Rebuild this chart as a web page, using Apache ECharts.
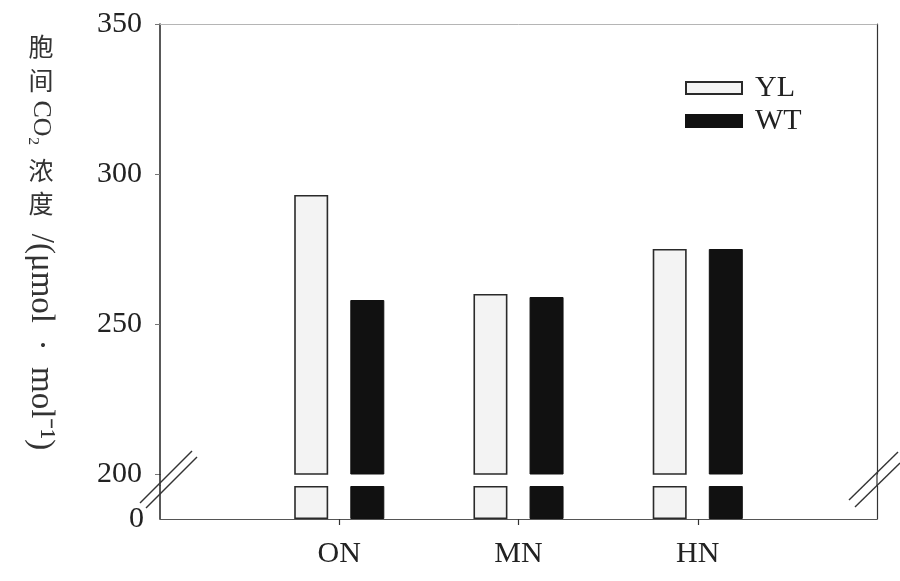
<!DOCTYPE html>
<html>
<head>
<meta charset="utf-8">
<script src="https://cdn.jsdelivr.net/npm/echarts@6/dist/echarts.min.js"></script>
<style>
  html, body { margin: 0; padding: 0; background: #fff; }
  #chart { width: 900px; height: 581px; }
</style>
</head>
<body>
<div id="chart"></div>
<script>
// Intercellular CO2 concentration by nitrogen level, two genotypes
const categories = ['ON', 'MN', 'HN'];
const seriesNames = ['YL', 'WT'];
const ylValues = [293, 260, 275];
const wtValues = [258, 259, 275];
const upperTicks = [200, 250, 300, 350];
const lowerTicks = [0, 200];

const FONT = '"Liberation Serif", "Noto Sans CJK SC", serif';
const CJK = '"Noto Sans CJK SC", sans-serif';
const INK = '#222';

// plot geometry: upper panel 200-350, lower stub 0-200 separated by the break
const L = 160, R = 877, T = 24, UPPER_BOTTOM = 474, LOWER_TOP = 486, B = 519;

const xData = [''].concat(categories, ['']);
const pad = arr => [null].concat(arr, [null]);
const lowerMax = lowerTicks[lowerTicks.length - 1];
const stub = arr => pad(arr.map(v => Math.min(v, lowerMax)));

const ylStyle = { color: '#f3f3f3', borderColor: '#2a2a2a', borderWidth: 1.6 };
const wtStyle = { color: '#111', borderColor: '#111', borderWidth: 1 };

const barCommon = { barWidth: 34, barGap: '65%', clip: true, animation: false };

const chart = echarts.init(document.getElementById('chart'), null, { renderer: 'canvas' });

const catAxisBase = {
  type: 'category',
  data: xData,
  boundaryGap: false,
  axisLabel: { show: false },
  axisTick: { show: false },
  splitLine: { show: false }
};

const option = {
  backgroundColor: '#fff',
  animation: false,
  textStyle: { fontFamily: FONT },
  grid: [
    { left: L, right: 900 - R, top: T, height: UPPER_BOTTOM - T },
    { left: L, right: 900 - R, top: LOWER_TOP, height: B - LOWER_TOP }
  ],
  legend: {
    data: seriesNames,
    orient: 'vertical',
    left: 680,
    top: 68,
    itemWidth: 56,
    itemHeight: 12,
    itemGap: 3,
    icon: 'rect',
    textStyle: { fontFamily: FONT, fontSize: 30, color: INK, padding: [0, 0, 0, 8] }
  },
  xAxis: [
    Object.assign({}, catAxisBase, {
      gridIndex: 0,
      position: 'top',
      axisLine: { show: true, lineStyle: { color: '#b5b5b5', width: 1 } }
    }),
    Object.assign({}, catAxisBase, {
      gridIndex: 1,
      position: 'bottom',
      axisLine: { show: true, lineStyle: { color: '#555', width: 1 } },
      axisTick: {
        show: true, length: 6, inside: false,
        interval: (i) => i > 0 && i < xData.length - 1,
        lineStyle: { color: '#333', width: 1.2 }
      },
      axisLabel: {
        show: true, margin: 20, interval: 0,
        fontFamily: FONT, fontSize: 30, color: INK
      }
    })
  ],
  yAxis: [
    {
      type: 'value', gridIndex: 0, position: 'left',
      min: upperTicks[0], max: upperTicks[upperTicks.length - 1],
      interval: upperTicks[1] - upperTicks[0],
      axisLine: { show: true, lineStyle: { color: '#222', width: 1.5 } },
      axisTick: { show: true, length: 5, lineStyle: { color: '#777', width: 1 } },
      axisLabel: { margin: 18, fontFamily: FONT, fontSize: 30, color: INK },
      splitLine: { show: false }
    },
    {
      type: 'value', gridIndex: 0, position: 'right',
      min: upperTicks[0], max: upperTicks[upperTicks.length - 1],
      axisLine: { show: true, lineStyle: { color: '#333', width: 1.2 } },
      axisTick: { show: false }, axisLabel: { show: false }, splitLine: { show: false }
    },
    {
      type: 'value', gridIndex: 1, position: 'left',
      min: lowerTicks[0], max: lowerMax, interval: lowerMax - lowerTicks[0],
      axisLine: { show: true, lineStyle: { color: '#222', width: 1.5 } },
      axisTick: { show: false },
      axisLabel: {
        margin: 16, fontFamily: FONT, fontSize: 30, color: INK,
        formatter: v => (v === lowerTicks[0] ? String(v) : '')
      },
      splitLine: { show: false }
    },
    {
      type: 'value', gridIndex: 1, position: 'right',
      min: lowerTicks[0], max: lowerMax,
      axisLine: { show: true, lineStyle: { color: '#333', width: 1.2 } },
      axisTick: { show: false }, axisLabel: { show: false }, splitLine: { show: false }
    }
  ],
  series: [
    Object.assign({ type: 'bar', name: seriesNames[0], xAxisIndex: 0, yAxisIndex: 0,
      data: pad(ylValues), itemStyle: ylStyle }, barCommon),
    Object.assign({ type: 'bar', name: seriesNames[1], xAxisIndex: 0, yAxisIndex: 0,
      data: pad(wtValues), itemStyle: wtStyle }, barCommon),
    Object.assign({ type: 'bar', name: seriesNames[0], xAxisIndex: 1, yAxisIndex: 2,
      data: stub(ylValues), itemStyle: ylStyle }, barCommon),
    Object.assign({ type: 'bar', name: seriesNames[1], xAxisIndex: 1, yAxisIndex: 2,
      data: stub(wtValues), itemStyle: wtStyle }, barCommon)
  ],
  graphic: []
};

// axis continuity across the break and the double-slash break marks
const breakLine = (x1, y1, x2, y2, w, c) => ({
  type: 'line', silent: true, z: 100,
  shape: { x1, y1, x2, y2 },
  style: { stroke: c || '#333', lineWidth: w || 1.4 }
});
option.graphic.push(
  breakLine(L, UPPER_BOTTOM, L, LOWER_TOP, 1.5, '#222'),
  breakLine(R, UPPER_BOTTOM, R, LOWER_TOP, 1.2, '#333'),
  breakLine(140, 503, 192, 451),
  breakLine(146, 508, 197, 457),
  breakLine(849, 500, 898, 452),
  breakLine(855, 507, 900, 463)
);

// vertical axis title: CJK characters upright, Latin runs turned clockwise
const titleX = 41;
const cjkChar = (t, y) => ({
  type: 'text', silent: true, x: titleX, y,
  style: { text: t, font: '25px ' + CJK, fill: '#333', align: 'center', verticalAlign: 'middle' }
});
const latinRun = (t, y, size) => ({
  type: 'text', silent: true, x: titleX, y, rotation: -Math.PI / 2,
  style: { text: t, font: (size || 26) + 'px ' + FONT, fill: '#333', align: 'center', verticalAlign: 'middle' }
});
option.graphic.push(
  cjkChar('胞', 46),
  cjkChar('间', 80),
  latinRun('CO₂', 123, 26),
  cjkChar('浓', 170),
  cjkChar('度', 203),
  latinRun('/(μmol  ·  mol⁻¹)', 342, 33)
);

chart.setOption(option);
</script>
</body>
</html>
